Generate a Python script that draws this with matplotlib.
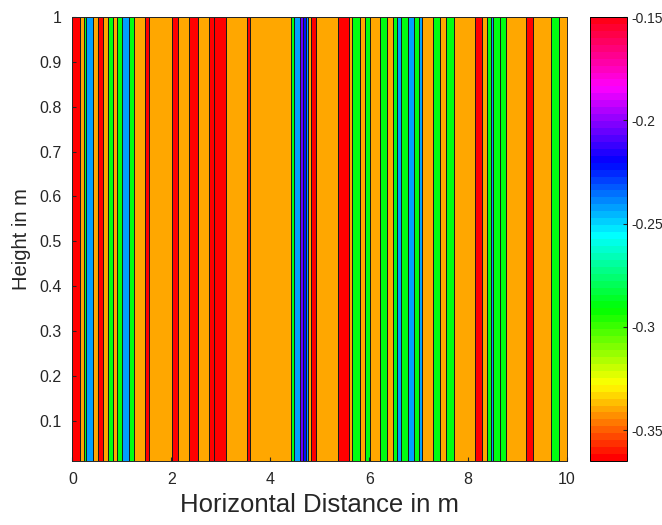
import numpy as np
import matplotlib.pyplot as plt

# strip boundaries along the profile (m)
edges = [0.0, 0.158, 0.233, 0.279, 0.415, 0.506, 0.613, 0.724, 0.829, 0.890,
         1.009, 1.149, 1.252, 1.466, 1.541, 2.018, 2.133, 2.364, 2.544, 2.760,
         2.853, 3.112, 3.529, 3.598, 4.419, 4.471, 4.597, 4.669, 4.722, 4.768,
         4.821, 4.916, 5.361, 5.592, 5.658, 5.820, 5.915, 6.008, 6.210, 6.360,
         6.481, 6.554, 6.639, 6.791, 6.912, 7.003, 7.074, 7.290, 7.424, 7.545,
         7.711, 8.140, 8.287, 8.382, 8.453, 8.504, 8.645, 8.758, 9.163, 9.312,
         9.676, 9.838, 10.0]

# value of each strip
values = [-0.365, -0.341, -0.290, -0.244, -0.341, -0.365, -0.341, -0.290, -0.341, -0.290,
          -0.244, -0.290, -0.341, -0.365, -0.341, -0.365, -0.341, -0.365, -0.341, -0.365,
          -0.365, -0.341, -0.365, -0.341, -0.290, -0.244, -0.205, -0.221, -0.244, -0.341,
          -0.365, -0.341, -0.365, -0.341, -0.290, -0.341, -0.290, -0.341, -0.290, -0.341,
          -0.290, -0.244, -0.290, -0.244, -0.290, -0.244, -0.341, -0.290, -0.341, -0.290,
          -0.341, -0.365, -0.341, -0.290, -0.244, -0.290, -0.290, -0.341, -0.365, -0.341,
          -0.290, -0.341]

heights = [0.0, 1.0]
yticks = [0.1, 0.2, 0.3, 0.4, 0.5, 0.6, 0.7, 0.8, 0.9, 1]
xticks = [0, 2, 4, 6, 8, 10]
cticks = [-0.35, -0.3, -0.25, -0.2, -0.15]

plt.rcParams['font.family'] = ['Liberation Sans', 'DejaVu Sans']
txt = '#262626'

fig = plt.figure(figsize=(6.62, 5.25), dpi=100)
ax = fig.add_axes([0.1095, 0.1219, 0.747, 0.8457])
cax = fig.add_axes([0.891, 0.1219, 0.056, 0.8457])

cmap = plt.get_cmap('hsv', 64)
Z = np.array([values])
mesh = ax.pcolormesh(edges, heights, Z, cmap=cmap, vmin=-0.365, vmax=-0.15,
                     edgecolor='#1a1a1a', linewidth=0.6)

ax.set_xlim(0, 10)
ax.set_ylim(0.01, 1)
ax.set_xticks(xticks)
ax.set_xticklabels([str(t) for t in xticks])
ax.set_yticks(yticks)
ax.set_yticklabels([('%g' % t) for t in yticks])
ax.tick_params(direction='in', length=3, labelsize=11.5, colors=txt, pad=8)
for s in ax.spines.values():
    s.set_color('#262626')
    s.set_linewidth(0.7)
ax.set_xlabel('Horizontal Distance in m', fontsize=18.5, color=txt, labelpad=4)
ax.set_ylabel('Height in m', fontsize=14.5, color=txt, labelpad=6)

cb = fig.colorbar(mesh, cax=cax)
cb.set_ticks(cticks)
cb.set_ticklabels([('%g' % t) for t in cticks])
cb.ax.tick_params(direction='in', length=3, labelsize=10, colors=txt, pad=3)
cb.outline.set_linewidth(0.7)

fig.savefig('out.png', dpi=100)
